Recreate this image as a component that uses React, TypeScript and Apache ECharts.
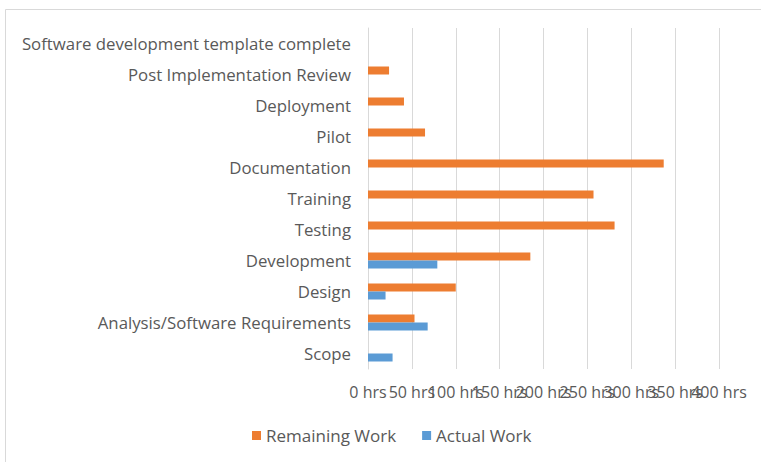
import React, { useEffect, useRef } from "react";
import * as echarts from "echarts";

const categories = [
  "Scope",
  "Analysis/Software Requirements",
  "Design",
  "Development",
  "Testing",
  "Training",
  "Documentation",
  "Pilot",
  "Deployment",
  "Post Implementation Review",
  "Software development template complete",
];
const remainingWork = [0, 53, 100, 185, 281, 257, 337, 65, 41, 24, 0];
const actualWork = [28, 68, 20, 79, 0, 0, 0, 0, 0, 0, 0];
const xTicks = [0, 50, 100, 150, 200, 250, 300, 350, 400];

const FONT = "'Open Sans', sans-serif";
const TXT = "#595959";
const X_MIN = xTicks[0];
const X_MAX = xTicks[xTicks.length - 1];

export default function App() {
  const ref = useRef<HTMLDivElement>(null);
  useEffect(() => {
    if (!ref.current) return;
    const chart = echarts.init(ref.current, undefined, { renderer: "svg" });
    const labelBase = {
      color: TXT,
      fontSize: 16,
      fontFamily: FONT,
      margin: 15,
      hideOverlap: false,
    };
    chart.setOption({
      animation: false,
      backgroundColor: "#ffffff",
      textStyle: { fontFamily: FONT },
      graphic: [
        {
          type: "rect",
          shape: { x: 5.5, y: 9.5, width: 800, height: 500 },
          style: { fill: "none", stroke: "#D9D9D9", lineWidth: 1 },
          silent: true,
        },
      ],
      grid: { left: 368, right: 42, top: 28, bottom: 93, containLabel: false },
      legend: {
        data: ["Remaining Work", "Actual Work"],
        left: 247,
        top: 422,
        icon: "rect",
        itemWidth: 9,
        itemHeight: 9,
        itemGap: 26,
        textStyle: { color: TXT, fontSize: 17, fontFamily: FONT },
      },
      xAxis: [
        {
          type: "value",
          min: X_MIN,
          max: X_MAX,
          interval: 50,
          axisLine: { show: false },
          axisTick: { show: false },
          splitLine: { show: true, lineStyle: { color: "#D9D9D9", width: 1 } },
          axisLabel: {
            ...labelBase,
            showMinLabel: true,
            showMaxLabel: false,
            formatter: (v: number) => `${v} hrs`,
          },
        },
        {
          type: "value",
          position: "bottom",
          min: X_MIN,
          max: X_MAX,
          interval: 50,
          axisLine: { show: false },
          axisTick: { show: false },
          splitLine: { show: false },
          axisLabel: {
            ...labelBase,
            showMinLabel: false,
            showMaxLabel: true,
            formatter: (v: number) => (v === X_MAX ? `${v} hrs` : ""),
          },
        },
      ],
      yAxis: {
        type: "category",
        data: categories,
        axisLine: { show: true, lineStyle: { color: "#D9D9D9" } },
        axisTick: { show: false },
        axisLabel: { color: TXT, fontSize: 16.8, fontFamily: FONT, margin: 17, interval: 0 },
      },
      series: [
        {
          name: "Remaining Work",
          type: "bar",
          data: remainingWork,
          itemStyle: { color: "#ED7D31" },
          barWidth: 8,
          barGap: "0%",
        },
        {
          name: "Actual Work",
          type: "bar",
          data: actualWork,
          itemStyle: { color: "#5B9BD5" },
          barWidth: 8,
          barGap: "0%",
        },
      ],
    });
    return () => chart.dispose();
  }, []);
  return (
    <div
      ref={ref}
      style={{ position: "fixed", left: 0, top: 0, width: 761, height: 462 }}
    />
  );
}
